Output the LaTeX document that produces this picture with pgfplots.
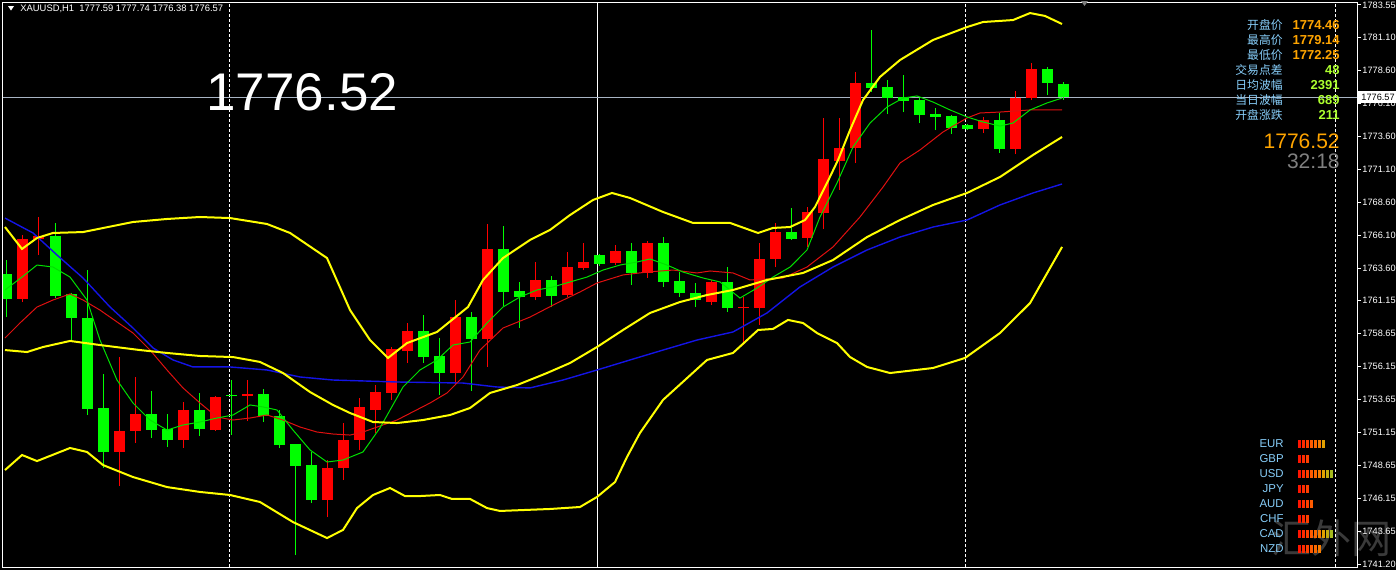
\documentclass[border=0pt]{standalone}
\usepackage{fontspec}
\setmainfont{Liberation Sans}
\newfontfamily\cjk{Noto Sans CJK SC}
\usepackage{pgfplots}
\pgfplotsset{compat=1.18}
\definecolor{bullc}{HTML}{FF0000}
\definecolor{bearc}{HTML}{00FF00}
\definecolor{bandc}{HTML}{FFFF00}
\definecolor{magreen}{HTML}{00E000}
\definecolor{mared}{HTML}{E01010}
\definecolor{mablue}{HTML}{1414E6}
\definecolor{bidc}{HTML}{A8B4C4}
\definecolor{lblc}{HTML}{87CEFA}
\definecolor{orc}{HTML}{FFA500}
\definecolor{gyc}{HTML}{ADFF2F}
\definecolor{tmc}{HTML}{808080}
\definecolor{wmc}{HTML}{3A3A3A}
\newcommand\fs[1]{\fontsize{#1}{#1}\selectfont}
\pgfdeclareplotmark{vbar}{\pgfpathrectangle{\pgfpoint{-0.75pt}{-2pt}}{\pgfpoint{1.5pt}{4pt}}\pgfusepathqfill}
\begin{document}
\begin{tikzpicture}
\fill[black] (0,0) rectangle (698pt,285pt);
% watermark (behind everything)
\begin{scope}[x=0.5pt, y=-0.5pt, yshift=285pt]
\node[anchor=east, text=wmc, inner sep=0pt, font=\cjk\fs{20}] at (1392,538) {汇外网};
\end{scope}
\begin{axis}[
  at={(1.5pt,1.5pt)}, anchor=south west,
  scale only axis, width=677pt, height=282.5pt,
  xmin=-0.25, xmax=84.375, ymin=1740.974, ymax=1783.777,
  axis line style={white, line width=0.5pt},
  xtick=\empty,
  ytick={1741.20,1743.65,1746.15,1748.65,1751.15,1753.65,1756.15,1758.65,1761.15,1763.60,1766.10,1768.60,1771.10,1773.60,1776.10,1778.60,1781.10,1783.55},
  yticklabels={1741.20,1743.65,1746.15,1748.65,1751.15,1753.65,1756.15,1758.65,1761.15,1763.60,1766.10,1768.60,1771.10,1773.60,1776.10,1778.60,1781.10,1783.55},
  ytick pos=right, yticklabel pos=right,
  tick align=outside, major tick length=2pt,
  tick style={white, line width=0.5pt},
  yticklabel style={font=\fs{4.6}, text=white, inner sep=0pt, xshift=0.5pt},
  unbounded coords=jump,
]
% period separators
\draw[white, line width=0.5pt, dash pattern=on 1.5pt off 1pt] (axis cs:13.906,1740.974) -- (axis cs:13.906,1783.777);
\draw[white, line width=0.5pt] (axis cs:36.89,1740.974) -- (axis cs:36.89,1783.777);
\draw[white, line width=0.5pt, dash pattern=on 1.5pt off 1pt] (axis cs:59.92,1740.974) -- (axis cs:59.92,1783.777);
\draw[white, line width=0.5pt, dash pattern=on 1.5pt off 1pt] (axis cs:83.0,1740.974) -- (axis cs:83.0,1783.777);
% bid line
\addplot[bidc, line width=0.5pt] coordinates {(-0.25,1776.57) (84.375,1776.57)};
% bull wicks
\addplot[bullc, line width=0.5pt] coordinates {
(1,1761.05)(1,1766.13)(1,nan) (2,1764.61)(2,1767.49)(2,nan) (7,1747.11)(7,1756.88)(7,nan)
(8,1750.37)(8,1755.37)(8,nan) (11,1749.99)(11,1753.47)(11,nan) (13,1751.30)(13,1753.95)(13,nan)
(15,1752.03)(15,1755.14)(15,nan) (20,1744.76)(20,1749.08)(20,nan) (21,1747.57)(21,1751.88)(21,nan)
(22,1749.84)(22,1753.78)(22,nan) (23,1751.13)(23,1754.76)(23,nan) (24,1753.63)(24,1757.64)(24,nan)
(25,1756.43)(25,1759.46)(25,nan) (28,1754.76)(28,1761.20)(28,nan) (30,1756.13)(30,1766.96)(30,nan)
(33,1761.20)(33,1764.08)(33,nan) (35,1761.43)(35,1764.84)(35,nan) (36,1763.47)(36,1765.52)(36,nan)
(38,1763.85)(38,1765.37)(38,nan) (40,1762.87)(40,1765.67)(40,nan) (44,1760.82)(44,1762.72)(44,nan)
(46,1757.79)(46,1761.43)(46,nan) (47,1759.31)(47,1765.52)(47,nan) (48,1763.70)(48,1767.04)(48,nan)
(50,1765.22)(50,1768.25)(50,nan) (51,1766.58)(51,1774.99)(51,nan) (52,1769.54)(52,1774.99)(52,nan)
(53,1771.58)(53,1778.48)(53,nan) (61,1773.85)(61,1775.06)(61,nan) (63,1772.25)(63,1777.04)(63,nan)
(64,1776.35)(64,1779.14)(64,nan)};
% bull bodies
\addplot[bullc, line width=5.5pt] coordinates {
(1,1761.28)(1,1765.82)(1,nan) (2,1765.82)(2,1766.05)(2,nan) (7,1749.69)(7,1751.28)(7,nan)
(8,1751.28)(8,1752.56)(8,nan) (11,1750.60)(11,1752.87)(11,nan) (13,1751.35)(13,1753.85)(13,nan)
(15,1753.95)(15,1754.10)(15,nan) (20,1746.05)(20,1748.48)(20,nan) (21,1748.48)(21,1750.60)(21,nan)
(22,1750.60)(22,1753.10)(22,nan) (23,1752.87)(23,1754.23)(23,nan) (24,1754.16)(24,1757.49)(24,nan)
(25,1757.34)(25,1758.85)(25,nan) (28,1755.67)(28,1759.91)(28,nan) (30,1758.25)(30,1765.07)(30,nan)
(33,1761.43)(33,1762.72)(33,nan) (35,1761.58)(35,1763.70)(35,nan) (36,1763.63)(36,1764.08)(36,nan)
(38,1764.00)(38,1764.91)(38,nan) (40,1763.25)(40,1765.52)(40,nan) (44,1761.05)(44,1762.57)(44,nan)
(46,1760.60)(46,1760.70)(46,nan) (47,1760.60)(47,1764.31)(47,nan) (48,1764.31)(48,1766.35)(48,nan)
(50,1765.90)(50,1767.87)(50,nan) (51,1767.79)(51,1771.88)(51,nan) (52,1771.73)(52,1772.72)(52,nan)
(53,1772.72)(53,1777.64)(53,nan) (61,1774.16)(61,1774.84)(61,nan) (63,1772.64)(63,1776.50)(63,nan)
(64,1776.50)(64,1778.70)(64,nan)};
% bear wicks
\addplot[bearc, line width=0.5pt] coordinates {
(0,1759.91)(0,1764.23)(0,nan) (3,1761.35)(3,1767.04)(3,nan) (4,1758.17)(4,1761.73)(4,nan)
(5,1752.49)(5,1763.47)(5,nan) (6,1748.48)(6,1755.60)(6,nan) (9,1750.75)(9,1754.31)(9,nan)
(10,1750.07)(10,1752.56)(10,nan) (12,1750.90)(12,1754.16)(12,nan) (14,1750.98)(14,1755.14)(14,nan)
(16,1751.96)(16,1754.46)(16,nan) (17,1749.99)(17,1752.87)(17,nan) (18,1741.88)(18,1750.30)(18,nan)
(19,1745.82)(19,1749.69)(19,nan) (26,1756.43)(26,1760.07)(26,nan) (27,1754.00)(27,1758.32)(27,nan)
(29,1754.31)(29,1760.29)(29,nan) (31,1760.75)(31,1766.81)(31,nan) (32,1759.08)(32,1762.57)(32,nan)
(34,1760.67)(34,1763.02)(34,nan) (37,1763.80)(37,1764.70)(37,nan) (39,1762.34)(39,1765.52)(39,nan)
(41,1762.19)(41,1765.97)(41,nan) (42,1761.43)(42,1763.32)(42,nan) (43,1760.67)(43,1762.49)(43,nan)
(45,1760.29)(45,1763.70)(45,nan) (49,1765.75)(49,1768.17)(49,nan) (54,1776.96)(54,1781.66)(54,nan)
(55,1775.29)(55,1777.87)(55,nan) (56,1775.44)(56,1778.25)(56,nan) (57,1774.61)(57,1776.50)(57,nan)
(58,1774.08)(58,1775.75)(58,nan) (59,1773.78)(59,1775.20)(59,nan) (60,1774.10)(60,1774.50)(60,nan)
(62,1772.34)(62,1775.37)(62,nan) (65,1776.73)(65,1778.85)(65,nan) (66,1776.38)(66,1777.74)(66,nan)};
% bear bodies
\addplot[bearc, line width=5.5pt] coordinates {
(0,1763.17)(0,1761.28)(0,nan) (3,1766.05)(3,1761.50)(3,nan) (4,1761.66)(4,1759.84)(4,nan)
(5,1759.84)(5,1752.94)(5,nan) (6,1753.02)(6,1749.69)(6,nan) (9,1752.56)(9,1751.35)(9,nan)
(10,1751.43)(10,1750.60)(10,nan) (12,1752.87)(12,1751.43)(12,nan) (14,1754.00)(14,1753.92)(14,nan)
(16,1754.08)(16,1752.41)(16,nan) (17,1752.41)(17,1750.22)(17,nan) (18,1750.30)(18,1748.63)(18,nan)
(19,1748.70)(19,1746.05)(19,nan) (26,1758.85)(26,1756.88)(26,nan) (27,1756.96)(27,1755.67)(27,nan)
(29,1759.91)(29,1758.25)(29,nan) (31,1765.07)(31,1761.81)(31,nan) (32,1761.88)(32,1761.43)(32,nan)
(34,1762.72)(34,1761.50)(34,nan) (37,1764.61)(37,1763.93)(37,nan) (39,1764.91)(39,1763.25)(39,nan)
(41,1765.52)(41,1762.57)(41,nan) (42,1762.64)(42,1761.73)(42,nan) (43,1761.73)(43,1761.20)(43,nan)
(45,1762.57)(45,1760.60)(45,nan) (49,1766.35)(49,1765.82)(49,nan) (54,1777.64)(54,1777.26)(54,nan)
(55,1777.34)(55,1776.50)(55,nan) (56,1776.58)(56,1776.28)(56,nan) (57,1776.35)(57,1775.22)(57,nan)
(58,1775.29)(58,1775.06)(58,nan) (59,1775.14)(59,1774.23)(59,nan) (60,1774.46)(60,1774.16)(60,nan)
(62,1774.84)(62,1772.64)(62,nan) (65,1778.70)(65,1777.64)(65,nan) (66,1777.59)(66,1776.57)(66,nan)};
% moving averages
\addplot[mablue, line width=0.7pt] coordinates {
(-0.125,1767.41) (1.625,1766.28) (3.125,1764.61) (4.75,1762.87) (6.44,1760.67) (7.875,1759.08) (9.125,1757.57) (10.375,1756.66) (11.625,1756.13) (13.94,1756.13) (16.25,1755.90) (18.31,1755.37) (20.375,1755.14) (24.375,1754.99) (28.5,1754.91) (30.625,1754.61) (32.69,1754.54) (34.75,1755.14) (36.875,1755.90) (38.94,1756.66) (41,1757.41) (43.125,1758.17) (45.375,1758.78) (47.5,1760.22) (49.56,1762.19) (51.625,1763.70) (53.75,1764.99) (55.81,1765.97) (57.875,1766.73) (60,1767.26) (62.06,1768.40) (64.125,1769.31) (65.94,1769.99)};
\addplot[mared, line width=0.5pt] coordinates {
(-0.125,1758.32) (0.81,1759.46) (1.875,1760.67) (2.875,1761.20) (3.94,1761.66) (4.75,1761.20) (5.81,1760.44) (6.875,1759.54) (7.875,1758.70) (8.94,1757.41) (10,1755.90) (11,1754.54) (12.06,1753.40) (13.125,1752.34) (14.125,1752.11) (15.19,1752.26) (16.25,1752.49) (17.25,1752.11) (18.31,1751.58) (19.375,1751.20) (20.375,1751.05) (21.44,1750.97) (22.25,1751.20) (24.375,1752.11) (26.44,1753.40) (27.5,1754.16) (28.5,1755.37) (29.56,1757.41) (31,1759.08) (32.69,1759.91) (34.375,1760.97) (35.81,1761.81) (36.875,1762.49) (38.5,1763.10) (40,1763.32) (41.625,1763.47) (43.125,1763.25) (43.94,1763.40) (45.375,1763.25) (46.44,1762.72) (48.5,1762.87) (50,1763.70) (51.625,1765.22) (53.31,1767.49) (54.75,1769.76) (55.81,1771.58) (57.06,1772.57) (58.5,1773.93) (60,1774.99) (60.81,1775.37) (62.06,1775.44) (63.94,1775.60) (65.94,1775.60)};
\addplot[magreen, line width=0.5pt] coordinates {
(-0.125,1761.96) (0.9375,1762.94) (1.875,1763.85) (2.875,1763.70) (3.94,1762.94) (5,1761.20) (5.81,1758.17) (6.875,1755.14) (7.875,1753.40) (8.94,1752.11) (10,1751.35) (11,1751.73) (12.06,1751.96) (13.125,1752.26) (14.125,1752.49) (15.19,1753.25) (16,1753.10) (16.875,1752.87) (17.875,1751.35) (18.94,1749.84) (20,1748.93) (21,1749.08) (22.25,1749.69) (23.31,1751.51) (24.75,1754.61) (25.81,1755.90) (26.875,1756.66) (27.875,1757.79) (28.94,1758.02) (30,1759.46) (31,1760.67) (32.06,1761.43) (33.125,1761.96) (34.125,1762.19) (35.19,1762.57) (36.25,1762.94) (37.25,1763.47) (38.31,1763.85) (39.375,1764.08) (40.19,1764.31) (41.25,1763.85) (42.25,1763.32) (43.5,1762.87) (44.56,1762.57) (45.81,1761.35) (46.875,1762.11) (47.875,1762.94) (48.94,1763.70) (50,1764.99) (50.81,1767.49) (51.875,1770.07) (52.875,1772.79) (53.94,1774.61) (55,1775.82) (56,1776.50) (56.875,1776.66) (57.875,1776.20) (58.94,1775.60) (60,1775.07) (61,1774.69) (62.06,1774.38) (62.875,1774.61) (63.94,1775.60) (65,1776.13) (65.94,1776.50)};
% Bollinger bands
\addplot[bandc, line width=1pt] coordinates {
(-0.125,1766.73) (0.9375,1765.07) (1.875,1765.90) (2.875,1766.28) (4.75,1766.35) (7.875,1767.11) (10,1767.34) (12.06,1767.49) (13.94,1767.41) (16.25,1766.96) (17.69,1766.28) (20,1764.38) (21.44,1760.44) (22.69,1758.17) (23.81,1756.81) (25,1757.94) (26.875,1758.78) (28.81,1760.67) (29.75,1762.72) (31,1764.38) (32.69,1765.75) (33.94,1766.51) (35.19,1767.64) (36.625,1768.78) (37.81,1769.31) (38.94,1768.93) (41,1767.87) (42.875,1767.04) (45.19,1767.04) (46.94,1766.28) (47.875,1766.66) (48.94,1766.73) (49.875,1767.26) (50.5,1768.25) (51.25,1770.07) (51.94,1771.81) (52.69,1774.08) (53.5,1776.35) (54.56,1778.10) (55.81,1779.38) (57.875,1780.90) (60,1781.88) (61,1782.26) (62.875,1782.41) (63.94,1782.94) (64.875,1782.72) (65.94,1782.11)};
\addplot[bandc, line width=1pt] coordinates {
(-0.125,1757.41) (1.25,1757.26) (2.25,1757.64) (3.94,1758.10) (5.81,1757.79) (8.31,1757.41) (10,1757.19) (12.06,1756.96) (14.125,1756.88) (15.81,1756.51) (17.25,1755.67) (18.94,1754.23) (20.375,1753.25) (21.44,1752.64) (22.875,1751.96) (24.375,1751.88) (26,1752.11) (27.69,1752.49) (28.94,1753.02) (30.19,1754.16) (31.875,1754.76) (33.75,1755.67) (35.19,1756.43) (36.875,1757.64) (38.5,1758.93) (40.19,1760.22) (42.06,1761.05) (43.75,1761.58) (45.375,1761.96) (47.5,1762.72) (49.75,1763.25) (51.625,1764.23) (53.75,1765.97) (55.81,1767.26) (57.875,1768.40) (60,1769.31) (62.06,1770.52) (64.125,1772.19) (65.94,1773.55)};
\addplot[bandc, line width=1pt] coordinates {
(-0.125,1748.32) (0.9375,1749.46) (1.875,1749.00) (3.94,1749.99) (5,1749.69) (6,1748.70) (7.875,1747.79) (10,1747.03) (12.06,1746.66) (13.94,1746.43) (15.81,1745.90) (17.875,1744.38) (20,1743.17) (21,1743.78) (21.875,1745.44) (22.875,1746.43) (23.94,1746.96) (24.875,1746.35) (25.81,1746.35) (27.06,1746.43) (27.81,1746.13) (28.94,1746.13) (30,1745.44) (30.81,1745.22) (33.94,1745.37) (35.81,1745.52) (36.875,1746.28) (38,1747.41) (38.75,1749.31) (39.56,1751.13) (41,1753.63) (43.75,1756.66) (45.375,1757.19) (46.94,1758.93) (47.875,1759.01) (48.81,1759.69) (49.75,1759.46) (50.625,1758.70) (51.875,1757.94) (52.69,1756.88) (53.75,1756.13) (55.19,1755.67) (57.875,1756.05) (59.875,1756.81) (62.06,1758.70) (63.94,1760.97) (65.94,1765.22)};
\end{axis}
% currency strength mini panel
\begin{axis}[
  at={(648.75pt,6.75pt)}, anchor=south west,
  scale only axis, width=20pt, height=60pt,
  xmin=0.5, xmax=10.5, ymin=-7.5, ymax=0.5,
  hide axis, clip=false,
  colormap={strength}{rgb255(0cm)=(255,20,0) rgb255(3cm)=(255,85,0) rgb255(5cm)=(248,125,0) rgb255(6cm)=(225,160,0) rgb255(8cm)=(165,185,30)},
  point meta min=1, point meta max=9,
]
\addplot[scatter, only marks, mark=vbar, point meta=x,
  scatter/use mapped color={draw=none, fill=mapped color}] coordinates {
(1,0)(2,0)(3,0)(4,0)(5,0)(6,0)(7,0)
(1,-1)(2,-1)(3,-1)
(1,-2)(2,-2)(3,-2)(4,-2)(5,-2)(6,-2)(7,-2)(8,-2)(9,-2)
(1,-3)(2,-3)(3,-3)
(1,-4)(2,-4)(3,-4)(4,-4)
(1,-5)(2,-5)(3,-5)
(1,-6)(2,-6)(3,-6)(4,-6)(5,-6)(6,-6)(7,-6)(8,-6)(9,-6)
(1,-7)(2,-7)(3,-7)(4,-7)(5,-7)(6,-7)};
\end{axis}
\begin{scope}[x=0.5pt, y=-0.5pt, yshift=285pt]
% header
\fill[white] (8,6) -- (14,6) -- (11,10.5) -- cycle;
\node[anchor=west, text=white, inner sep=0pt, font=\fs{4.7}] at (20,8.5) {XAUUSD,H1\ \ 1777.59 1777.74 1776.38 1776.57};
\fill[gray] (1081,1) -- (1088,1) -- (1084.5,6) -- cycle;
% big price
\node[anchor=west, text=white, inner sep=0pt, font=\fs{26.5}] at (206,92) {1776.52};
% price box
\fill[white] (1358,91) rectangle (1396,103);
\node[anchor=west, text=black, inner sep=0pt, font=\fs{4.6}] at (1361,97) {1776.57};
% info panel
\foreach \t/\yy in {开盘价/25, 最高价/40, 最低价/55, 交易点差/70, 日均波幅/85, 当日波幅/100, 开盘涨跌/115}
  \node[anchor=east, text=lblc, inner sep=0pt, font=\cjk\fs{5.9}] at (1283,\yy) {\t};
\foreach \t/\yy in {1774.46/25, 1779.14/40, 1772.25/55}
  \node[anchor=east, text=orc, inner sep=0pt, font=\fs{6.5}\bfseries] at (1340,\yy) {\t};
\foreach \t/\yy in {48/70, 2391/85, 689/100, 211/115}
  \node[anchor=east, text=gyc, inner sep=0pt, font=\fs{6.5}\bfseries] at (1340,\yy) {\t};
\node[anchor=east, text=orc, inner sep=0pt, font=\fs{10.5}] at (1340,141) {1776.52};
\node[anchor=east, text=tmc, inner sep=0pt, font=\fs{10.5}] at (1340,161) {32:18};
% currency names
\foreach \t/\yy in {EUR/444, GBP/459, USD/474, JPY/489, AUD/504, CHF/519, CAD/534, NZD/549}
  \node[anchor=east, text=lblc, inner sep=0pt, font=\fs{5.7}] at (1284,\yy) {\t};
\end{scope}
\pgfresetboundingbox
\useasboundingbox (0,0) rectangle (698pt,285pt);
\end{tikzpicture}
\end{document}
